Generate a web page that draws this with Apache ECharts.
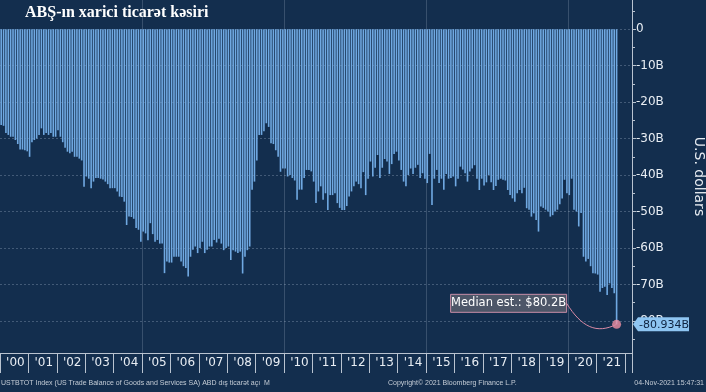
<!DOCTYPE html>
<html><head><meta charset="utf-8">
<script src="https://cdn.jsdelivr.net/npm/echarts@6/dist/echarts.min.js"></script>
<style>html,body{margin:0;padding:0;background:#132e4e}#c{width:706px;height:392px}</style>
</head><body><div id="c"></div><script>
const titleText = "ABŞ-ın xarici ticarət kəsiri";
const yAxisName = "U.S. dollars";
const yearLabels = ["'00","'01","'02","'03","'04","'05","'06","'07","'08","'09","'10","'11","'12","'13","'14","'15","'16","'17","'18","'19","'20","'21"];
const y2000 = [-26.3,-26.5,-28.5,-29.0,-29.5,-29.5,-30.4,-31.5,-33.0,-33.0,-33.2,-33.5];
const y2001 = [-35.0,-31.0,-30.4,-30.0,-29.0,-27.2,-29.0,-28.5,-29.0,-28.5,-29.5,-29.5];
const y2002 = [-27.7,-29.5,-31.0,-32.5,-33.6,-34.0,-33.6,-35.0,-35.0,-35.5,-36.0,-43.2];
const y2003 = [-40.4,-41.0,-43.6,-41.8,-40.8,-40.8,-41.0,-41.2,-41.8,-42.5,-43.6,-43.6];
const y2004 = [-43.6,-44.5,-45.9,-46.0,-47.3,-53.7,-51.4,-51.5,-52.0,-54.5,-55.0,-58.3];
const y2005 = [-55.5,-56.0,-57.9,-53.2,-56.2,-58.3,-57.8,-58.8,-58.8,-66.9,-63.7,-64.0];
const y2006 = [-64.0,-62.4,-62.4,-62.4,-63.7,-65.0,-65.5,-67.8,-62.4,-60.5,-59.6,-61.4];
const y2007 = [-60.0,-58.3,-61.4,-60.5,-59.6,-59.6,-57.8,-58.5,-57.5,-58.8,-60.6,-60.0];
const y2008 = [-59.6,-63.3,-60.6,-61.0,-61.4,-61.0,-67.0,-62.4,-60.6,-59.6,-44.0,-41.8];
const y2009 = [-36.0,-29.0,-29.0,-28.0,-25.8,-26.8,-31.3,-31.5,-33.2,-35.0,-39.1,-38.2];
const y2010 = [-38.2,-40.4,-40.0,-40.8,-41.5,-46.8,-44.0,-44.0,-40.8,-38.6,-38.6,-39.0];
const y2011 = [-41.8,-47.7,-44.5,-43.1,-46.8,-45.0,-49.6,-45.5,-45.5,-45.0,-47.7,-49.0];
const y2012 = [-49.6,-49.6,-48.5,-45.9,-44.5,-43.1,-41.8,-42.5,-43.6,-39.2,-45.5,-41.0];
const y2013 = [-36.3,-40.4,-38.0,-34.5,-40.8,-38.0,-35.6,-36.3,-39.7,-37.0,-34.2,-33.6];
const y2014 = [-36.0,-38.6,-41.8,-43.1,-40.0,-38.2,-39.7,-38.0,-37.2,-40.8,-39.5,-41.0];
const y2015 = [-42.2,-34.2,-48.2,-41.0,-38.6,-42.2,-41.0,-44.0,-39.7,-41.0,-40.8,-40.4];
const y2016 = [-43.1,-41.0,-37.7,-38.5,-39.5,-41.8,-39.0,-38.2,-37.3,-41.0,-44.1,-41.0];
const y2017 = [-42.9,-42.0,-40.0,-42.0,-44.1,-43.0,-41.3,-41.0,-41.3,-41.5,-44.1,-45.5];
const y2018 = [-46.4,-47.3,-45.0,-44.1,-45.0,-43.5,-49.1,-49.5,-51.4,-50.5,-52.3,-55.5];
const y2019 = [-48.6,-49.0,-49.5,-50.0,-51.4,-51.0,-50.0,-49.5,-48.0,-46.4,-41.3,-45.0];
const y2020 = [-45.5,-41.0,-49.5,-50.0,-54.1,-50.4,-62.4,-63.7,-63.0,-65.0,-66.9,-67.0];
const y2021 = [-67.3,-72.0,-71.0,-70.6,-72.9,-69.7,-71.0,-72.4,-80.934];
const values = [].concat(y2000,y2001,y2002,y2003,y2004,y2005,y2006,y2007,y2008,y2009,y2010,y2011,y2012,y2013,y2014,y2015,y2016,y2017,y2018,y2019,y2020,y2021);
const lastLabel = "-80.934B";
const medianText = "Median est.: $80.2B";
const yTicks = [0,-10,-20,-30,-40,-50,-60,-70,-80];
const yMinorTicks = [5,-5,-15,-25,-35,-45,-55,-65,-75,-85];
const yMin = -88.8, yMax = 8;
const nMonths = 267;
const footerLeft = "USTBTOT Index (US Trade Balance of Goods and Services SA) ABD dış ticarət açı  M";
const footerMid = "Copyright© 2021 Bloomberg Finance L.P.";
const footerRight = "04-Nov-2021 15:47:31";

const categories = [];
for (let i = 0; i < nMonths; i++) categories.push((2000 + Math.floor(i / 12)) + '-' + String(i % 12 + 1).padStart(2, '0'));
const barData = categories.map((c, i) => i < values.length ? values[i] : null);
const lastIdx = values.length - 1;

const axisCol = '#b9c3d0';
const textCol = '#e8edf3';
const chart = echarts.init(document.getElementById('c'));
chart.setOption({
  backgroundColor: '#132e4e',
  animation: false,
  grid: { left: 0, right: 74, top: 0, bottom: 39, containLabel: false, outerBoundsMode: 'none' },
  xAxis: {
    type: 'category', data: categories, boundaryGap: true,
    axisLine: { show: true, onZero: false, lineStyle: { color: axisCol, width: 1 } },
    axisTick: { show: true, interval: (i) => i % 12 === 0, length: 20, lineStyle: { color: axisCol } },
    axisLabel: { interval: (i) => i % 12 === 6, formatter: (v, i) => yearLabels[Math.floor(i / 12)] || '',
      color: textCol, fontSize: 12, fontFamily: 'DejaVu Sans', margin: 4 },
    splitLine: { show: true, interval: (i) => i > 0 && i % 60 === 0, lineStyle: { color: 'rgba(190,205,225,0.22)', width: 1 } }
  },
  yAxis: [{
    type: 'value', position: 'right', min: yMin, max: yMax,
    axisLine: { show: true, onZero: false, lineStyle: { color: axisCol, width: 1 } },
    axisTick: { show: true, customValues: yTicks, length: 4, lineStyle: { color: axisCol } },
    axisLabel: { customValues: yTicks, formatter: (v) => v === 0 ? '0' : v + 'B', color: textCol, fontSize: 12, fontFamily: 'DejaVu Sans', margin: 4 },
    splitLine: { show: true, lineStyle: { color: 'rgba(190,205,225,0.28)', type: [2, 2], width: 1 } },
    name: yAxisName, nameLocation: 'middle', nameRotate: -90, nameGap: 60,
    nameTextStyle: { color: textCol, fontSize: 14, fontFamily: 'DejaVu Sans' }
  }, {
    type: 'value', position: 'right', min: yMin, max: yMax,
    axisLine: { show: false, onZero: false },
    axisTick: { show: true, customValues: yMinorTicks, length: 3, lineStyle: { color: axisCol } },
    axisLabel: { show: false }, splitLine: { show: false }
  }],
  series: [{
    type: 'bar', data: barData, barCategoryGap: '32%', silent: true,
    itemStyle: { color: '#70a9e2' }
  }, {
    type: 'scatter', data: [[lastIdx, values[lastIdx]]], symbolSize: 9, z: 5, silent: true,
    itemStyle: { color: '#f08ea3' }
  }]
});

const p = chart.convertToPixel({ seriesIndex: 0 }, [lastIdx, values[lastIdx]]);
const gx = 632;
chart.setOption({
  graphic: [
    { type: 'text', left: 25, top: 5, style: { text: titleText, fill: '#ffffff', font: 'bold 16px "Liberation Serif", serif' } },
    { type: 'bezierCurve', z: 10, shape: { x1: p[0] - 50, y1: p[1] - 21, cpx1: p[0] - 35, cpy1: p[1] + 3, cpx2: p[0] - 20, cpy2: p[1] + 10, x2: p[0], y2: p[1] },
      style: { stroke: '#d98aa5', lineWidth: 1, fill: null } },
    { type: 'rect', z: 11, shape: { x: p[0] - 166, y: p[1] - 30, width: 116, height: 18 },
      style: { fill: '#4d5668', stroke: '#c88ea8', lineWidth: 1 } },
    { type: 'text', z: 12, x: p[0] - 108, y: p[1] - 21, style: { text: medianText, fill: '#ffffff', font: '11.5px "DejaVu Sans"', align: 'center', verticalAlign: 'middle' } },
    { type: 'polygon', z: 11, shape: { points: [[gx + 1, p[1]], [gx + 6, p[1] - 7], [gx + 57, p[1] - 7], [gx + 57, p[1] + 7], [gx + 6, p[1] + 7]] },
      style: { fill: '#8ec5f2' } },
    { type: 'text', z: 12, x: gx + 7, y: p[1] + 0.5, style: { text: lastLabel, fill: '#0e2340', font: '11px "DejaVu Sans"', align: 'left', verticalAlign: 'middle' } },
    { type: 'text', left: 1, top: 380, style: { text: footerLeft, fill: '#c4ccd6', font: '7px "Liberation Sans"' } },
    { type: 'text', left: 388, top: 380, style: { text: footerMid, fill: '#c4ccd6', font: '7px "Liberation Sans"' } },
    { type: 'text', right: 2, top: 380, style: { text: footerRight, fill: '#c4ccd6', font: '7px "Liberation Sans"' } }
  ]
});
</script></body></html>
